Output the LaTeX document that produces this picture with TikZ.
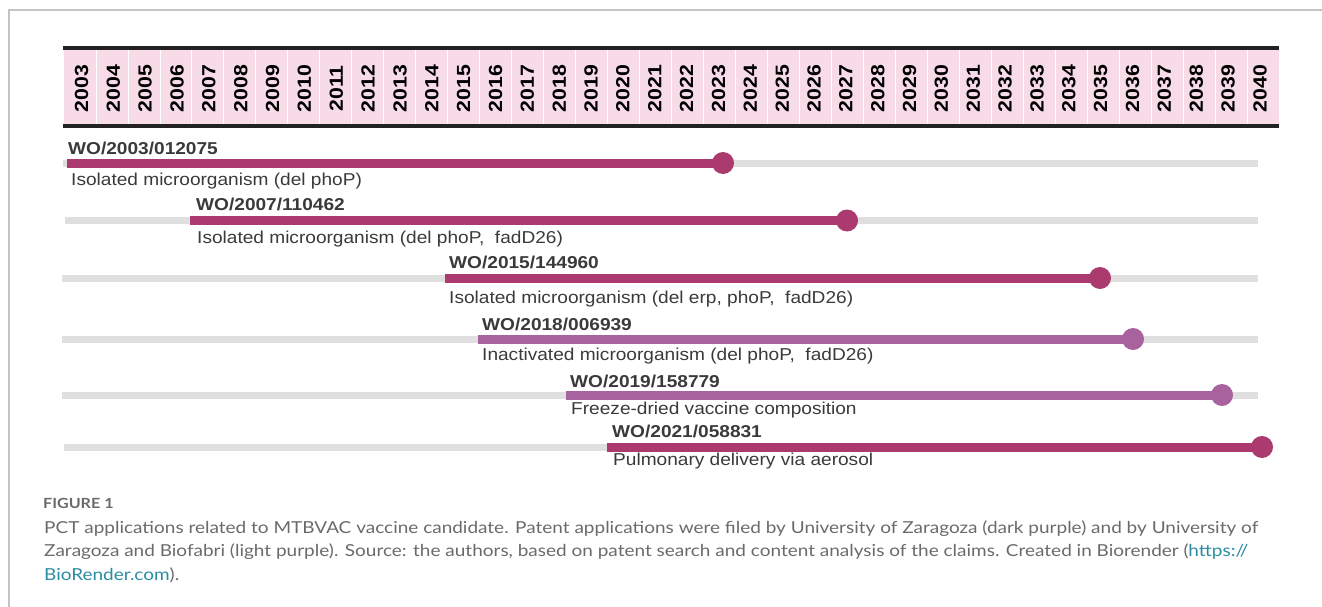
\documentclass[tikz,border=0pt]{standalone}
\usepackage{fontspec}
\setmainfont{Liberation Sans}
\newfontfamily\rowfont[FakeStretch=1.11]{Liberation Sans}
\newfontfamily\yearfont[FakeStretch=1.12]{Liberation Sans}
\newfontfamily\capfont[FakeStretch=1.15]{Lato}
\definecolor{pinkband}{HTML}{F7DCE8}
\definecolor{bandline}{HTML}{222222}
\definecolor{trackgray}{HTML}{DFDFDF}
\definecolor{darkpurple}{HTML}{AB3A6F}
\definecolor{lightpurple}{HTML}{A8629E}
\definecolor{labelgray}{HTML}{3A3A3A}
\definecolor{capgray}{HTML}{6A6A6A}
\definecolor{linkteal}{HTML}{2A8CA2}
\definecolor{framegray}{HTML}{C4C4C4}
\begin{document}
\begin{tikzpicture}[
    x=1pt, y=-1pt,
    year/.style={rotate=90, inner sep=0pt, font=\yearfont\fontsize{19}{19}\selectfont\bfseries, text=black},
    wolabel/.style={anchor=base west, inner sep=0pt, font=\rowfont\fontsize{17.2}{20}\selectfont\bfseries, text=labelgray},
    desc/.style={anchor=base west, inner sep=0pt, font=\rowfont\fontsize{17.2}{20}\selectfont, text=labelgray},
    track/.style={line width=7pt, draw=trackgray},
    darkbar/.style={line width=9pt, draw=darkpurple},
    lightbar/.style={line width=9pt, draw=lightpurple},
    darkdot/.style={circle, fill=darkpurple, minimum size=22pt, inner sep=0pt},
    lightdot/.style={circle, fill=lightpurple, minimum size=22pt, inner sep=0pt},
    captext/.style={anchor=base west, inner sep=0pt, font=\capfont\fontsize{16.5}{20}\selectfont, text=capgray},
]
\useasboundingbox (0,0) rectangle (1322,607);
\draw[framegray, line width=1.5pt] (9,607) -- (9,10) -- (1322,10);

\fill[pinkband] (64,49) rectangle (1279,126);
\foreach \i in {1,...,37}
    \draw[white, line width=0.8pt] (64+31.97*\i,50) -- (64+31.97*\i,125);
\draw[bandline, line width=4pt] (63,48) -- (1279,48);
\draw[bandline, line width=4pt] (63,126.5) -- (1279,126.5);
\foreach \yr [count=\i from 0] in {2003,...,2040}
    \node[year] (y\yr) at (81.5+31.85*\i,88.5) {\yr};

\coordinate (t1a) at (63,163);
\coordinate (t1b) at (1258,163);
\draw[track] (t1a) -- (t1b);
\coordinate (s1) at (67,163);
\node[darkdot] (d1) at (723,163) {};
\draw[darkbar] (s1) -- (d1.center);
\node[wolabel] (wo1) at (68,154) {WO/2003/012075};
\node[desc] (txt1) at (71,185.5) {Isolated microorganism (del phoP)};

\coordinate (t2a) at (65,220.5);
\coordinate (t2b) at (1258,220.5);
\draw[track] (t2a) -- (t2b);
\coordinate (s2) at (190,220.5);
\node[darkdot] (d2) at (847,220.5) {};
\draw[darkbar] (s2) -- (d2.center);
\node[wolabel] (wo2) at (196,210) {WO/2007/110462};
\node[desc] (txt2) at (197,243.5) {Isolated microorganism (del phoP,~ fadD26)};

\coordinate (t3a) at (62,278);
\coordinate (t3b) at (1258,278);
\draw[track] (t3a) -- (t3b);
\coordinate (s3) at (445,278);
\node[darkdot] (d3) at (1100,278) {};
\draw[darkbar] (s3) -- (d3.center);
\node[wolabel] (wo3) at (449,268) {WO/2015/144960};
\node[desc] (txt3) at (449,303.5) {Isolated microorganism (del erp, phoP,~ fadD26)};

\coordinate (t4a) at (62,339);
\coordinate (t4b) at (1258,339);
\draw[track] (t4a) -- (t4b);
\coordinate (s4) at (478,339);
\node[lightdot] (d4) at (1133,339) {};
\draw[lightbar] (s4) -- (d4.center);
\node[wolabel] (wo4) at (482,330) {WO/2018/006939};
\node[desc] (txt4) at (482,360.5) {Inactivated microorganism (del phoP,~ fadD26)};

\coordinate (t5a) at (62,395);
\coordinate (t5b) at (1258,395);
\draw[track] (t5a) -- (t5b);
\coordinate (s5) at (566,395);
\node[lightdot] (d5) at (1222,395) {};
\draw[lightbar] (s5) -- (d5.center);
\node[wolabel] (wo5) at (570,387) {WO/2019/158779};
\node[desc] (txt5) at (571,414) {Freeze-dried vaccine composition};

\coordinate (t6a) at (64,447);
\coordinate (t6b) at (1258,447);
\draw[track] (t6a) -- (t6b);
\coordinate (s6) at (607,447);
\node[darkdot] (d6) at (1262,447) {};
\draw[darkbar] (s6) -- (d6.center);
\node[wolabel] (wo6) at (612,437) {WO/2021/058831};
\node[desc] (txt6) at (613,465) {Pulmonary delivery via aerosol};

\node[captext, font=\capfont\bfseries\fontsize{14}{16}\selectfont] (fig) at (43,508) {FIGURE 1};
\node[captext] (cap1) at (44,533) {PCT applications related to MTBVAC vaccine candidate. Patent applications were filed by University of Zaragoza (dark purple) and by University of};
\node[captext] (cap2) at (44,556.5) {Zaragoza and Biofabri (light purple). Source: the authors, based on patent search and content analysis of the claims. Created in Biorender (\textcolor{linkteal}{https://}};
\node[captext] (cap3) at (44,580) {\textcolor{linkteal}{BioRender.com}).};
\end{tikzpicture}
\end{document}
